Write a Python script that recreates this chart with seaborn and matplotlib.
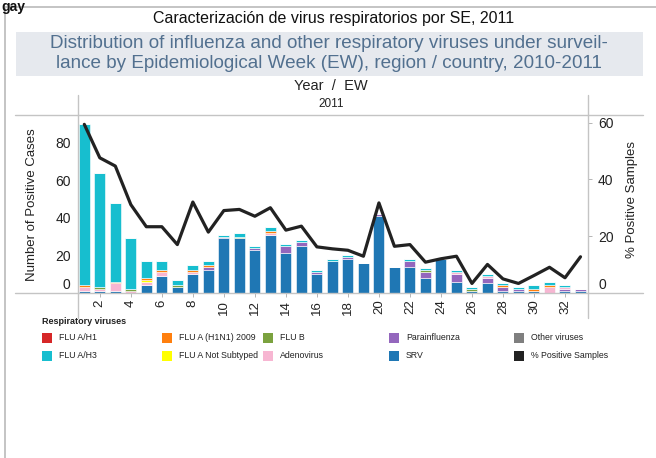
import matplotlib
matplotlib.use("Agg")
import matplotlib.pyplot as plt
import matplotlib.transforms as mtransforms
from matplotlib.lines import Line2D
from matplotlib.patches import Rectangle
import numpy as np
import pandas as pd
import seaborn as sns

# --- data (cases per epidemiological week, 2011) ---
weeks = list(range(1, 34))
srv = [1, 1, 1, 0, 4, 9, 3, 10, 12, 29, 29, 23, 31, 21, 25, 10, 17,
       18, 16, 41, 14, 14, 8, 18, 6, 1, 5, 1, 1, 1, 0, 1, 1]
parainfluenza = [0, 0, 0, 0, 0, 0, 0, 0, 2, 1, 0, 1, 0, 4, 2, 1, 0,
                 1, 0, 1, 0, 3, 3, 0, 4, 0, 3, 2, 1, 0, 0, 1, 1]
adenovirus = [2, 1, 4, 1, 2, 2, 0, 1, 0, 0, 0, 0, 1, 0, 0, 0, 0,
              0, 0, 0, 0, 0, 0, 0, 1, 0, 1, 0, 0, 0, 3, 1, 0]
flu_b = [0, 1, 0, 1, 0, 0, 1, 0, 0, 0, 1, 0, 0, 0, 0, 0, 0,
         0, 0, 0, 0, 0, 1, 0, 0, 1, 0, 0, 0, 0, 0, 0, 0]
flu_a_not_subtyped = [0, 0, 0, 0, 1, 0, 0, 0, 0, 0, 0, 0, 0, 0, 0, 0, 0,
                      0, 0, 0, 0, 0, 0, 0, 0, 0, 0, 0, 0, 0, 0, 0, 0]
flu_a_h1n1_2009 = [1, 0, 1, 0, 1, 1, 0, 1, 1, 0, 0, 0, 1, 0, 0, 0, 0,
                   0, 0, 0, 0, 0, 0, 0, 0, 0, 0, 1, 0, 1, 1, 0, 0]
flu_a_h3 = [86, 61, 42, 27, 9, 5, 3, 3, 2, 1, 2, 1, 2, 1, 1, 1, 1,
            1, 0, 0, 0, 1, 1, 0, 1, 1, 1, 1, 1, 2, 2, 1, 0]
flu_a_h1 = [0] * 33
other_viruses = [0] * 33
pct_positive = [59.4, 47.6, 44.7, 31.1, 23.3, 23.3, 17.0, 32.0, 21.4, 29.0, 29.4,
                27.0, 30.0, 22.1, 23.5, 16.2, 15.5, 15.0, 12.9, 31.7, 16.4, 17.0,
                10.8, 12.0, 12.9, 3.3, 10.0, 4.9, 3.3, 6.1, 9.0, 5.3, 12.7]

week_ticks = list(range(2, 33, 2))
left_ticks = [0, 20, 40, 60, 80]
right_ticks = [0, 20, 40, 60]

series = {
    "SRV": srv,
    "Parainfluenza": parainfluenza,
    "Adenovirus": adenovirus,
    "FLU B": flu_b,
    "FLU A Not Subtyped": flu_a_not_subtyped,
    "FLU A (H1N1) 2009": flu_a_h1n1_2009,
    "FLU A/H3": flu_a_h3,
    "FLU A/H1": flu_a_h1,
    "Other viruses": other_viruses,
}
colors = {
    "FLU A/H1": "#d62728",
    "FLU A/H3": "#17becf",
    "FLU A (H1N1) 2009": "#ff7f0e",
    "FLU A Not Subtyped": "#ffff00",
    "FLU B": "#7ba23f",
    "Adenovirus": "#f7b6d2",
    "Parainfluenza": "#9467bd",
    "SRV": "#1f77b4",
    "Other viruses": "#7f7f7f",
}

df = pd.concat(
    [pd.DataFrame({"week": weeks, "cases": vals, "virus": name}) for name, vals in series.items()],
    ignore_index=True,
)
stack_order = list(series.keys())  # bottom -> top

sns.set_theme(style="white")
plt.rcParams["font.family"] = ["Liberation Sans", "DejaVu Sans"]

W, H = 656, 458
fig = plt.figure(figsize=(W / 100, H / 100), dpi=100)

def fx(px):
    return px / W

def fy(py):
    return 1 - py / H

x0, x1, y0, y1 = 78.3, 588.3, 115.0, 292.8
ax = fig.add_axes([fx(x0), fy(y1), fx(x1 - x0), (y1 - y0) / H])

sns.histplot(data=df, x="week", weights="cases", hue="virus", hue_order=stack_order[::-1],
             multiple="stack", discrete=True, shrink=0.71, palette=colors,
             edgecolor="white", linewidth=0.4, alpha=1, legend=False, ax=ax)
ax.set_xlim(0.613, 33.503)
ax.set_ylim(0, 94.8)
ax.set_xticks(week_ticks)
ax.set_xticklabels([str(w) for w in week_ticks], rotation=90, fontsize=9.5, color="#222222")
ax.set_yticks(left_ticks)
ax.set_yticklabels([str(t) for t in left_ticks], fontsize=10, color="#222222")
ax.tick_params(axis="x", length=3, width=0.6, color="#aaaaaa", pad=2, bottom=True)
ax.tick_params(axis="y", length=0, pad=5.5)
ax.set_xlabel("")
ax.set_ylabel("")
for s in ax.spines.values():
    s.set_visible(False)

ax2 = ax.twinx()
sns.lineplot(x=weeks, y=pct_positive, color="#222222", linewidth=2.3, ax=ax2)
ax2.set_ylim(0, 62.7)
ax2.set_yticks(right_ticks)
ax2.set_yticklabels([str(t) for t in right_ticks], fontsize=10, color="#222222")
ax2.tick_params(axis="y", length=3, width=0.6, color="#aaaaaa", pad=4, right=True)
ax2.set_ylabel("")
for s in ax2.spines.values():
    s.set_visible(False)

# lift the zero labels above the baseline, as in the reference
shift = mtransforms.ScaledTranslation(0, 9.5 / 100, fig.dpi_scale_trans)
for a in (ax, ax2):
    lab = a.get_yaxis().get_major_ticks()[0]
    lab.label1.set_transform(lab.label1.get_transform() + shift)
    lab.label2.set_transform(lab.label2.get_transform() + shift)

fig.text(fx(32), fy(205), "Number of Positive Cases", rotation=90, ha="center", va="center",
         fontsize=9.5, color="#222222")
fig.text(fx(632), fy(200), "% Positive Samples", rotation=90, ha="center", va="center",
         fontsize=9.5, color="#222222")

# --- frame / table lines ---
grey = "#c4c4c4"
def hline(y, xa, xb, lw=1.0):
    fig.add_artist(Line2D([fx(xa), fx(xb)], [fy(y), fy(y)], color=grey, lw=lw))
def vline(x, ya, yb, lw=1.0):
    fig.add_artist(Line2D([fx(x), fx(x)], [fy(ya), fy(yb)], color=grey, lw=lw))

hline(6.5, 5, 656, 1.4)
vline(5, 6.5, 458, 1.4)
hline(y0, 15, 643)
hline(y1, 15, 643)
vline(x0, 95, 318)
vline(x1, 95, 318)

fig.text(fx(1), fy(0.5), "gay", fontsize=10, fontweight="bold", ha="left", va="top",
         color="#111111")

fig.text(fx(334), fy(19), "Caracterización de virus respiratorios por SE, 2011", ha="center",
         va="center", fontsize=11.5, color="#111111")
fig.add_artist(Rectangle((fx(16), fy(76)), fx(627), 44 / H, transform=fig.transFigure,
                         facecolor="#e6e9ee", edgecolor="none"))
fig.text(fx(329), fy(44), "Distribution of influenza and other respiratory viruses under surveil-",
         ha="center", va="center", fontsize=13.6, color="#52708f")
fig.text(fx(329), fy(64), "lance by Epidemiological Week (EW), region / country, 2010-2011",
         ha="center", va="center", fontsize=13.6, color="#52708f")
fig.text(fx(331), fy(86), "Year  /  EW", ha="center", va="center", fontsize=10.5, color="#222222")
fig.text(fx(331), fy(104), "2011", ha="center", va="center", fontsize=8.5, color="#222222")

# --- legend (Tableau style grid) ---
fig.text(fx(42), fy(322), "Respiratory viruses", ha="left", va="center", fontsize=6.5,
         fontweight="bold", color="#222222")
legend_rows = [
    ["FLU A/H1", "FLU A (H1N1) 2009", "FLU B", "Parainfluenza", "Other viruses"],
    ["FLU A/H3", "FLU A Not Subtyped", "Adenovirus", "SRV", "% Positive Samples"],
]
col_x = [42, 162, 263, 389, 514]
row_y = [338, 356]
for r, row in enumerate(legend_rows):
    for c, name in enumerate(row):
        col = colors.get(name, "#222222")
        fig.add_artist(Rectangle((fx(col_x[c]), fy(row_y[r] + 5)), fx(10), 10 / H,
                                 transform=fig.transFigure, facecolor=col, edgecolor="none"))
        fig.text(fx(col_x[c] + 17), fy(row_y[r]), name, ha="left", va="center", fontsize=6.3,
                 color="#222222")

fig.savefig("out.png", dpi=100)
